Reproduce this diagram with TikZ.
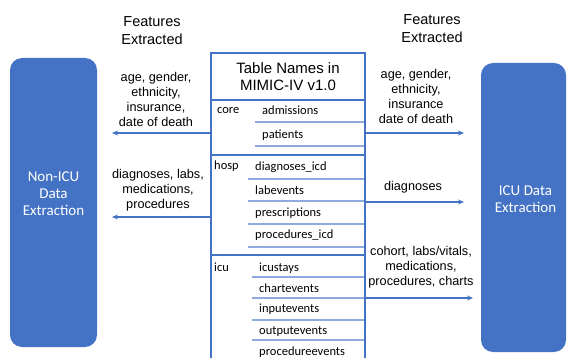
\documentclass[tikz,border=0pt]{standalone}
\usepackage{fontspec}
\setmainfont{Liberation Sans}
\newfontfamily\calibri{Carlito}
\usetikzlibrary{arrows.meta}
\definecolor{officeblue}{HTML}{4472C4}
\definecolor{rowblue}{HTML}{8FAADC}
\begin{document}
\begin{tikzpicture}[x=1pt,y=-1pt,
  extract/.style={fill=officeblue, rounded corners=12pt},
  boxtext/.style={text=white, align=center, font=\calibri\fontsize{15}{17}\selectfont},
  head/.style={align=center, font=\fontsize{14.5}{18}\selectfont},
  feat/.style={align=center, font=\fontsize{12.7}{15}\selectfont},
  section/.style={draw=officeblue, line width=1.5pt},
  tablerow/.style={anchor=base west, inner sep=0pt, font=\calibri\fontsize{12.5}{15}\selectfont},
  rowline/.style={draw=rowblue, line width=1.2pt},
  flow/.style={draw=officeblue, line width=1.2pt, -{Stealth[length=6pt,width=5pt]}}]
\useasboundingbox (0,0) rectangle (567,358);
% extraction boxes
\node[extract, minimum width=87pt, minimum height=289pt] (nonicu) at (53.5,202.5) {};
\node[boxtext] (nonicutext) at ([yshift=9pt]nonicu.center) {Non-ICU\\Data\\Extraction};
\node[extract, minimum width=85pt, minimum height=289pt] (icubox) at (523.5,207.5) {};
\node[boxtext] (icutext) at ([xshift=2pt,yshift=8pt]icubox.center) {ICU Data\\Extraction};
% table
\foreach \x/\y in {255/122,255/146,248/179,248/201,248/224,248/247,252/277,252/298,252/320,252/340}
  \draw[rowline] (\x,\y) -- (365,\y);
\node[section, minimum width=154pt, minimum height=47pt, inner sep=0pt, align=center,
  font=\fontsize{15}{17}\selectfont] (title) at (288,76.5) {Table Names in\\MIMIC-IV v1.0};
\node[section, minimum width=154pt, minimum height=55pt] (core) at (288,127.5) {};
\node[section, minimum width=154pt, minimum height=100pt] (hosp) at (288,205) {};
\node[section, minimum width=154pt, minimum height=115pt] (icu) at (288,312.5) {};
\node[tablerow] (corelbl) at (217,114) {core};
\node[tablerow] (hosplbl) at (214,170) {hosp};
\node[tablerow] (iculbl) at (214,271) {icu};
\foreach \n/\t/\x/\y in {adm/admissions/262/115, pat/patients/262/139,
    dx/diagnoses\_icd/255/171, lab/labevents/255/194, rx/prescriptions/255/216, px/procedures\_icd/255/238,
    stay/icustays/259/271, chart/chartevents/259/292, inp/inputevents/259/312, outp/outputevents/259/334, proc/procedureevents/259/355}
  \node[tablerow] (\n) at (\x,\y) {\t};
% features
\node[head] (featl) at (152,31) {Features\\Extracted};
\node[head] (featr) at (432,29) {Features\\Extracted};
\node[feat] (demol) at (156,99) {age, gender,\\ethnicity,\\insurance,\\date of death};
\node[feat] (hospl) at (158,190) {diagnoses, labs,\\medications,\\procedures};
\node[feat] (demor) at (416,96) {age, gender,\\ethnicity,\\insurance\\date of death};
\node[feat] (hospr) at (413,187) {diagnoses};
\node[feat] (icur) at (421,267) {cohort, labs/vitals,\\medications,\\procedures, charts};
% arrows
\coordinate (toleft1) at (112,133);
\coordinate (toleft2) at (112,217);
\coordinate (toright1) at (464,133);
\coordinate (toright2) at (464,202);
\coordinate (toright3) at (473,298);
\draw[flow] (core.west |- toleft1) -- (toleft1);
\draw[flow] (hosp.west |- toleft2) -- (toleft2);
\draw[flow] (core.east |- toright1) -- (toright1);
\draw[flow] (hosp.east |- toright2) -- (toright2);
\draw[flow] (icu.east |- toright3) -- (toright3);
\end{tikzpicture}
\end{document}
